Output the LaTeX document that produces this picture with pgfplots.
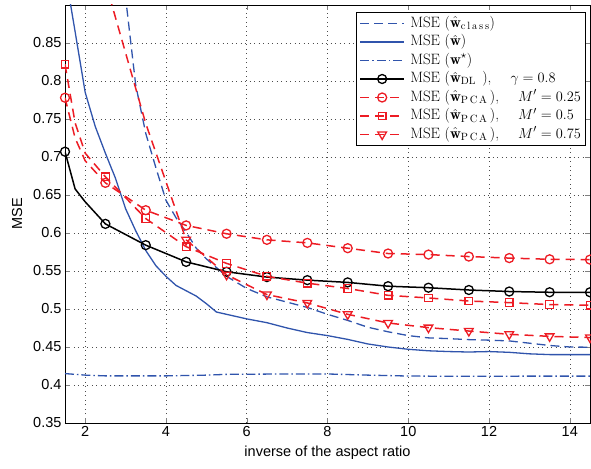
\documentclass[border=0pt]{standalone}
\usepackage{pgfplots}
\pgfplotsset{compat=1.18}
\usepackage{fontspec}
\newfontfamily\hel{Liberation Sans}
\definecolor{mblue}{RGB}{48,84,172}
\definecolor{mred}{RGB}{237,28,36}
\newcommand\legf{\fontsize{15}{17}\selectfont}
\begin{document}
\begin{tikzpicture}
\begin{axis}[
  scale only axis,
  width=525pt, height=418pt,
  xmin=1.5, xmax=14.5, ymin=0.35, ymax=0.9,
  xtick={2,4,6,8,10,12,14},
  ytick={0.35,0.4,0.45,0.5,0.55,0.6,0.65,0.7,0.75,0.8,0.85},
  yticklabels={0.35,0.4,0.45,0.5,0.55,0.6,0.65,0.7,0.75,0.8,0.85},
  /pgf/number format/assume math mode=true,
  ticklabel style={font=\hel\fontsize{14.5}{16}\selectfont},
  label style={font=\hel\fontsize{14.5}{16}\selectfont},
  xlabel={inverse of the aspect ratio},
  ylabel={MSE},
  xlabel style={at={(axis description cs:0.5,-0.072)}, anchor=center},
  ylabel style={at={(axis description cs:-0.0914,0.5)}, anchor=center},
  tick align=inside,
  major tick length=5pt,
  xtick pos=both, ytick pos=both,
  grid=major,
  grid style={black!70, line width=0.5pt, dash pattern=on 0.7pt off 3.8pt},
  axis line style={line width=0.9pt},
  clip mode=individual,
  legend cell align=left,
  legend style={at={(rel axis cs:0.992,0.983)}, anchor=north east,
    font=\legf, draw=black, line width=0.8pt, fill=white,
    row sep=0.5pt, inner ysep=2pt, inner xsep=3pt,
    nodes={inner sep=1.5pt, text height=11pt, text depth=4pt},
    /tikz/every odd column/.append style={column sep=4pt}},
  legend image code/.code={\draw[mark indices={2}] plot coordinates {(0cm,0cm) (0.77cm,0cm) (1.54cm,0cm)};},
]
\coordinate (sw) at (rel axis cs:0,0);
\coordinate (ne) at (rel axis cs:1,1);
% MSE(w_class)
\addplot[mblue, line width=1.3pt, dash pattern=on 9pt off 5pt] coordinates {
(2.75,1.08) (3.0,0.91) (3.25,0.795) (3.5,0.731) (3.75,0.686) (4.0,0.643) (4.25,0.62) (4.5,0.601)
(4.75,0.58) (5.0,0.566) (5.5,0.543) (6.0,0.527) (6.5,0.516) (7.0,0.509) (7.5,0.502) (8.0,0.493)
(8.5,0.485) (9.0,0.476) (9.5,0.470) (10.0,0.465) (10.5,0.462) (11.0,0.461) (11.5,0.4597)
(12.0,0.459) (12.5,0.458) (13.0,0.455) (13.5,0.452) (14.0,0.450) (14.5,0.4497)};
\addlegendentry{\legf MSE\ ($\hat{\mathbf{w}}_{\mathrm{c\,l\,a\,s\,s}}$)}
% MSE(w hat)
\addplot[mblue, line width=1.3pt] coordinates {
(1.5,0.945) (1.64,0.9) (1.75,0.865) (2.0,0.785) (2.25,0.74) (2.5,0.705) (2.75,0.672) (3.0,0.632)
(3.25,0.603) (3.5,0.577) (3.75,0.557) (4.0,0.543) (4.25,0.531) (4.5,0.524) (4.75,0.517)
(5.0,0.507) (5.25,0.496) (5.5,0.493) (6.0,0.487) (6.5,0.482) (7.0,0.475) (7.5,0.469)
(8.0,0.465) (8.5,0.46) (9.0,0.454) (9.5,0.450) (10.0,0.447) (10.5,0.445) (11.0,0.444)
(11.5,0.4434) (12.0,0.444) (12.5,0.443) (13.0,0.441) (13.5,0.440) (14.0,0.440) (14.5,0.440)};
\addlegendentry{\legf MSE\ ($\hat{\mathbf{w}}$)}
% MSE(w*)
\addplot[mblue, line width=1.3pt, dash pattern=on 9pt off 3pt on 1.5pt off 3pt] coordinates {
(1.5,0.415) (2.0,0.413) (2.5,0.412) (3.0,0.412) (3.5,0.412) (4.0,0.412) (4.5,0.4125)
(5.0,0.413) (5.5,0.414) (6.0,0.4142) (7.0,0.4145) (8.0,0.4145) (9.0,0.413) (10.0,0.4118)
(11.0,0.4115) (12.0,0.4115) (13.0,0.4117) (14.0,0.4117) (14.5,0.4117)};
\addlegendentry{\legf MSE\ ($\mathbf{w}^{\star}$)}
% DL
\addplot[black, line width=1.5pt, mark=o, mark size=4.5pt, mark options={solid, line width=1.3pt},
  mark indices={1,4,5,6,7,8,9,10,11,12,13,14,15,16}] coordinates {
(1.5,0.707) (1.75,0.658) (2.0,0.641) (2.5,0.612) (3.5,0.584) (4.5,0.562) (5.5,0.549) (6.5,0.542)
(7.5,0.538) (8.5,0.535) (9.5,0.530) (10.5,0.528) (11.5,0.525) (12.5,0.523) (13.5,0.522) (14.5,0.522)};
\addlegendentry{\legf MSE\ ($\hat{\mathbf{w}}_{\mathrm{DL}}\;\,$),\;\quad$\gamma=0.8$}
% PCA 0.25
\addplot[mred, line width=1.5pt, dash pattern=on 9pt off 6pt, mark=o, mark size=4.5pt,
  mark options={solid, line width=1.3pt},
  mark indices={1,4,5,6,7,8,9,10,11,12,13,14,15,16}] coordinates {
(1.5,0.778) (1.75,0.725) (2.0,0.695) (2.5,0.666) (3.5,0.630) (4.5,0.610) (5.5,0.599) (6.5,0.591)
(7.5,0.587) (8.5,0.580) (9.5,0.573) (10.5,0.5716) (11.5,0.569) (12.5,0.567) (13.5,0.5654) (14.5,0.565)};
\addlegendentry{\legf MSE\ ($\hat{\mathbf{w}}_{\mathrm{P\,C\,A}}\,$),\;\quad$M'=0.25$}
% PCA 0.5
\addplot[mred, line width=1.5pt, dash pattern=on 9pt off 6pt, mark=square, mark size=3.8pt,
  mark options={solid, line width=1.3pt},
  mark indices={1,4,5,6,7,8,9,10,11,12,13,14,15,16}] coordinates {
(1.5,0.822) (1.75,0.745) (2.0,0.705) (2.5,0.674) (3.5,0.619) (4.5,0.582) (5.5,0.560) (6.5,0.543)
(7.5,0.534) (8.5,0.527) (9.5,0.518) (10.5,0.5145) (11.5,0.5105) (12.5,0.5084) (13.5,0.5058) (14.5,0.505)};
\addlegendentry{\legf MSE\ ($\hat{\mathbf{w}}_{\mathrm{P\,C\,A}}\,$),\;\quad$M'=0.5$}
% PCA 0.75
\addplot[mred, line width=1.5pt, dash pattern=on 9pt off 6pt, mark=triangle, mark size=5pt,
  mark options={solid, line width=1.3pt, rotate=180},
  mark indices={2,3,4,5,6,7,8,9,10,11,12,13}] coordinates {
(2.5,0.93) (3.5,0.744) (4.5,0.591) (5.5,0.545) (6.5,0.519) (7.5,0.508) (8.5,0.493) (9.5,0.4816)
(10.5,0.4755) (11.5,0.471) (12.5,0.4667) (13.5,0.464) (14.5,0.4624)};
\addlegendentry{\legf MSE\ ($\hat{\mathbf{w}}_{\mathrm{P\,C\,A}}\,$),\;\quad$M'=0.75$}
\end{axis}
\pgfresetboundingbox
\path[use as bounding box] ([shift={(-65pt,-45pt)}]sw) rectangle ([shift={(1pt,5pt)}]ne);
\end{tikzpicture}
\end{document}
